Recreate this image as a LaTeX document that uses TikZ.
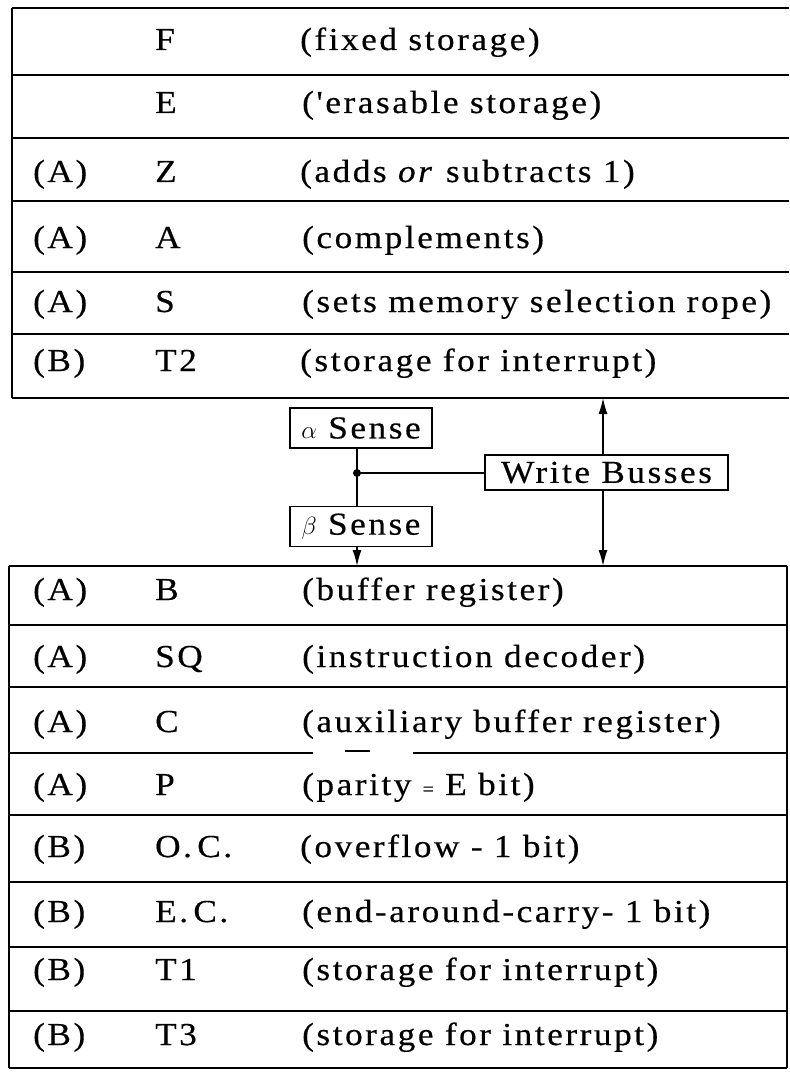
\documentclass[tikz,border=0pt]{standalone}
\usepackage{fontspec}
\setmainfont{Liberation Serif}[FakeStretch=1.1]
\newfontfamily\tabfont{Liberation Serif}[FakeStretch=1.1,FakeBold=0.4,LetterSpace=8]
\newfontfamily\boxfont{Liberation Serif}[FakeStretch=1.1,FakeBold=0.4,LetterSpace=8]
\usetikzlibrary{arrows.meta}

\tikzset{
  rule/.style={line width=1.8pt},
  heavyrule/.style={line width=2.6pt},
  cell/.style={anchor=base west, inner sep=0pt, font=\tabfont\fontsize{32}{38}\selectfont},
  sensebox/.style={draw, line width=1.4pt, minimum width=142pt, minimum height=40pt,
    inner sep=0pt, font=\boxfont\fontsize{32}{38}\selectfont},
  busbox/.style={draw, line width=1.4pt, minimum width=243pt, minimum height=35pt,
    inner sep=0pt, font=\boxfont\fontsize{32}{38}\selectfont},
  wire/.style={line width=1.4pt},
  bus/.style={line width=1.4pt, -{Latex[length=16pt,width=9pt]}},
}

\begin{document}
\begin{tikzpicture}[x=1pt,y=-1pt]
\useasboundingbox (0,0) rectangle (789,1075);

% ---------- upper group of registers ----------
\draw[rule] (12,8) -- (12,398);
\foreach \yy in {8,75,138,201,272,334,398}
  \draw[rule] (12,\yy) -- (789,\yy);

\node[cell] (fn) at (155,50)  {F};
\node[cell] (fd) at (300,50)  {(fixed storage)};
\node[cell] (en) at (155,113) {E};
\node[cell] (ed) at (302,113) {('erasable storage)};
\node[cell] (zl) at (33,182)  {(A)};
\node[cell] (zn) at (155,182) {Z};
\node[cell] (zd) at (300,182) {(adds \textit{or} subtracts 1)};
\node[cell] (al) at (33,248)  {(A)};
\node[cell] (an) at (155,248) {A};
\node[cell] (ad) at (302,248) {(complements)};
\node[cell] (sl) at (33,312)  {(A)};
\node[cell] (sn) at (155,312) {S};
\node[cell] (sd) at (302,312) {(sets memory selection rope)};
\node[cell] (t2l) at (33,371) {(B)};
\node[cell] (t2n) at (155,371) {T2};
\node[cell] (t2d) at (300,371) {(storage for interrupt)};

% ---------- lower group of registers ----------
\draw[rule] (9,566) -- (9,1068);
\draw[rule] (787,566) -- (787,1068);
\draw[heavyrule] (9,566) -- (787,566);
\foreach \yy in {625,687,815,882,947,1011,1068}
  \draw[rule] (9,\yy) -- (787,\yy);
\draw[rule] (9,753) -- (313,753);
\draw[rule] (345,751) -- (370,751);
\draw[rule] (413,753) -- (787,753);

\node[cell] (bl) at (33,600)  {(A)};
\node[cell] (bn) at (155,600) {B};
\node[cell] (bd) at (302,600) {(buffer register)};
\node[cell] (ql) at (33,667)  {(A)};
\node[cell] (qn) at (155,667) {SQ};
\node[cell] (qd) at (302,667) {(instruction decoder)};
\node[cell] (cl) at (33,732)  {(A)};
\node[cell] (cn) at (155,732) {C};
\node[cell] (cd) at (302,732) {(auxiliary buffer register)};
\node[cell] (pl) at (33,795)  {(A)};
\node[cell] (pn) at (155,795) {P};
\node[cell] (pd) at (302,795) {(parity {\fontsize{18}{18}\selectfont =} E bit)};
\node[cell] (ol) at (33,857)  {(B)};
\node[cell] (on) at (155,857) {O.\,C.};
\node[cell] (od) at (300,857) {(overflow - 1 bit)};
\node[cell] (xl) at (33,922)  {(B)};
\node[cell] (xn) at (155,922) {E.\,C.};
\node[cell] (xd) at (302,922) {(end-around-carry- 1 bit)};
\node[cell] (t1l) at (33,980) {(B)};
\node[cell] (t1n) at (155,980) {T1};
\node[cell] (t1d) at (302,980) {(storage for interrupt)};
\node[cell] (t3l) at (33,1045) {(B)};
\node[cell] (t3n) at (155,1045) {T3};
\node[cell] (t3d) at (302,1045) {(storage for interrupt)};

% ---------- sense amplifiers and write busses ----------
\coordinate (upper) at (0,398);
\coordinate (lower) at (0,566);
\coordinate (junction) at (357,473);
\coordinate (buscol) at (603,0);

\node[sensebox] (alpha) at (361,428)   {$\alpha$ Sense};
\node[sensebox] (beta)  at (361,526.5) {$\beta$ Sense};
\node[busbox]   (wb)    at (606.5,472.5) {Write Busses};

\draw[wire] (junction |- alpha.south) -- (junction |- beta.north);
\draw[wire] (junction) -- (wb.west |- junction);
\fill (junction) circle (4pt);
\draw[bus] (junction |- beta.south) -- (junction |- lower);
\draw[bus] (buscol |- wb.north) -- (buscol |- upper);
\draw[bus] (buscol |- wb.south) -- (buscol |- lower);
\end{tikzpicture}
\end{document}
